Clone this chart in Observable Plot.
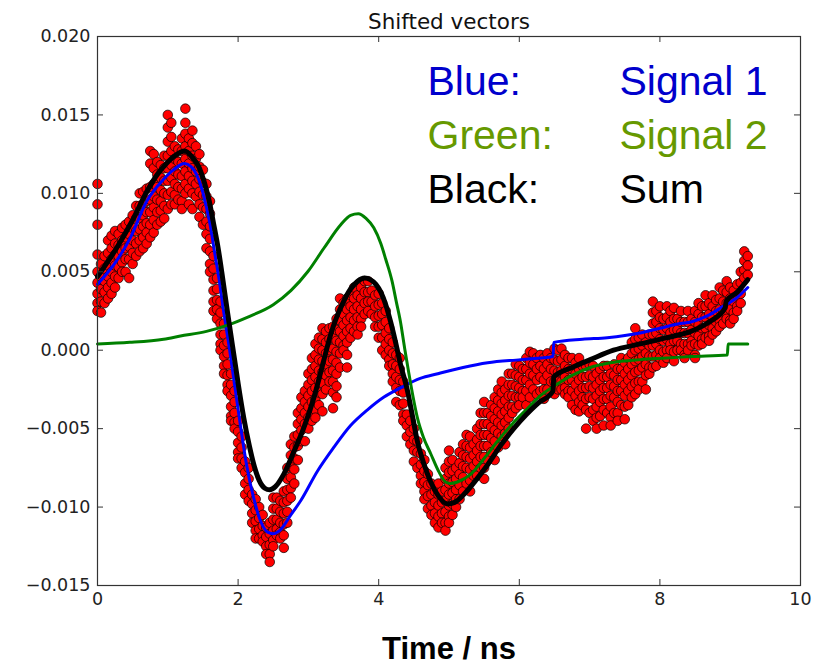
<!DOCTYPE html>
<html><head><meta charset="utf-8">
<script src="https://cdn.jsdelivr.net/npm/d3@7"></script>
<script src="https://cdn.jsdelivr.net/npm/@observablehq/plot@0.6"></script>
<style>html,body{margin:0;padding:0;background:#fff}#chart svg{display:block}</style>
</head><body><div id="chart"></div>
<script>
const titleText = "Shifted vectors";
const xLabel = "Time / ns";
const xTicks = [0, 2, 4, 6, 8, 10];
const yTicks = [-0.015, -0.010, -0.005, 0.000, 0.005, 0.010, 0.015, 0.020];
const legendKeys = ["Blue:", "Green:", "Black:"];
const legendNames = ["Signal 1", "Signal 2", "Sum"];
const legendColors = ["#0000cc", "#669900", "#000000"];

// measured data: [time, [values at that time]]
const measured = [
[0.00,[0.0106,0.0093,0.0080,0.0061,0.0050,0.0043,0.0036,0.0030,0.0025]],
[0.05,[0.0055,0.0047,0.0039,0.0031,0.0024]],
[0.10,[0.0060,0.0052,0.0044,0.0037,0.0030]],
[0.15,[0.0070,0.0062,0.0054,0.0047,0.0040,0.0033]],
[0.20,[0.0073,0.0065,0.0058,0.0050,0.0043,0.0036]],
[0.25,[0.0076,0.0068,0.0061,0.0054,0.0047,0.0040]],
[0.30,[0.0074,0.0067,0.0060,0.0053,0.0046]],
[0.35,[0.0078,0.0070,0.0063,0.0056,0.0050]],
[0.40,[0.0080,0.0072,0.0065,0.0058,0.0050]],
[0.45,[0.0082,0.0074,0.0066,0.0058,0.0046]],
[0.50,[0.0086,0.0078,0.0070,0.0062,0.0055]],
[0.55,[0.0092,0.0084,0.0076,0.0068,0.0060]],
[0.60,[0.0100,0.0092,0.0084,0.0077,0.0070,0.0063]],
[0.65,[0.0101,0.0093,0.0086,0.0079,0.0072,0.0065]],
[0.70,[0.0103,0.0095,0.0088,0.0081,0.0075,0.0068]],
[0.75,[0.0127,0.0119,0.0104,0.0096,0.0088,0.0080,0.0072]],
[0.80,[0.0125,0.0116,0.0106,0.0098,0.0091,0.0083,0.0075]],
[0.85,[0.0120,0.0112,0.0104,0.0096,0.0088,0.0080]],
[0.90,[0.0118,0.0110,0.0102,0.0095,0.0089,0.0082]],
[0.95,[0.0124,0.0116,0.0108,0.0100,0.0092,0.0084]],
[1.00,[0.0150,0.0142,0.0133,0.0124,0.0116,0.0108,0.0099,0.0090]],
[1.05,[0.0145,0.0136,0.0127,0.0118,0.0110,0.0101,0.0093]],
[1.10,[0.0130,0.0122,0.0114,0.0106,0.0099,0.0093]],
[1.15,[0.0128,0.0120,0.0112,0.0104,0.0096]],
[1.20,[0.0135,0.0127,0.0119,0.0111,0.0103,0.0095,0.0090]],
[1.25,[0.0154,0.0145,0.0138,0.0130,0.0122,0.0114,0.0106,0.0100]],
[1.30,[0.0135,0.0127,0.0119,0.0111,0.0103,0.0093]],
[1.35,[0.0140,0.0132,0.0124,0.0116,0.0108,0.0100,0.0090]],
[1.40,[0.0130,0.0122,0.0114,0.0106,0.0098]],
[1.45,[0.0125,0.0117,0.0109,0.0101,0.0093,0.0085]],
[1.50,[0.0115,0.0107,0.0099,0.0091,0.0080]],
[1.55,[0.0106,0.0098,0.0090,0.0082,0.0074,0.0065]],
[1.60,[0.0095,0.0087,0.0079,0.0071,0.0063,0.0055,0.0050]],
[1.65,[0.0060,0.0052,0.0045,0.0038,0.0031,0.0025]],
[1.70,[0.0046,0.0039,0.0032,0.0026,0.0020]],
[1.75,[0.0031,0.0024,0.0017,0.0010,0.0004,0.0000]],
[1.80,[0.0017,0.0010,0.0003,-0.0004,-0.0010,-0.0015]],
[1.85,[0.0005,-0.0002,-0.0009,-0.0016,-0.0022,-0.0026]],
[1.90,[-0.0015,-0.0022,-0.0029,-0.0036,-0.0042,-0.0045]],
[1.95,[-0.0026,-0.0033,-0.0040,-0.0046,-0.0050]],
[2.00,[-0.0045,-0.0052,-0.0059,-0.0065,-0.0069]],
[2.05,[-0.0055,-0.0062,-0.0069,-0.0075]],
[2.10,[-0.0071,-0.0078,-0.0085,-0.0092]],
[2.15,[-0.0075,-0.0082,-0.0089,-0.0096]],
[2.20,[-0.0092,-0.0098,-0.0104,-0.0110]],
[2.25,[-0.0095,-0.0102,-0.0109,-0.0115,-0.0120]],
[2.30,[-0.0100,-0.0107,-0.0114,-0.0120]],
[2.35,[-0.0105,-0.0112,-0.0118,-0.0122]],
[2.40,[-0.0113,-0.0119,-0.0125,-0.0130]],
[2.45,[-0.0110,-0.0117,-0.0124,-0.0130,-0.0135]],
[2.50,[-0.0094,-0.0101,-0.0108,-0.0115,-0.0121,-0.0125]],
[2.55,[-0.0094,-0.0101,-0.0108,-0.0114,-0.0118]],
[2.60,[-0.0096,-0.0103,-0.0110,-0.0116,-0.0120]],
[2.65,[-0.0090,-0.0097,-0.0104,-0.0111,-0.0118,-0.0126]],
[2.70,[-0.0075,-0.0082,-0.0089,-0.0096,-0.0103,-0.0110]],
[2.75,[-0.0060,-0.0067,-0.0074,-0.0081,-0.0088,-0.0094]],
[2.80,[-0.0055,-0.0062,-0.0069,-0.0076,-0.0085]],
[2.85,[-0.0040,-0.0047,-0.0054,-0.0061,-0.0070]],
[2.90,[-0.0030,-0.0037,-0.0044,-0.0051,-0.0058]],
[2.95,[-0.0026,-0.0033,-0.0040,-0.0047,-0.0058]],
[3.00,[-0.0015,-0.0022,-0.0029,-0.0036,-0.0043,-0.0050]],
[3.05,[-0.0005,-0.0012,-0.0019,-0.0026,-0.0033,-0.0040,-0.0045]],
[3.10,[0.0004,-0.0003,-0.0010,-0.0017,-0.0024,-0.0031,-0.0038,-0.0043]],
[3.15,[0.0008,0.0001,-0.0006,-0.0013,-0.0020,-0.0027,-0.0035]],
[3.20,[0.0014,0.0007,0.0000,-0.0007,-0.0014,-0.0021,-0.0028,-0.0039]],
[3.25,[0.0012,0.0005,-0.0002,-0.0009,-0.0016,-0.0025]],
[3.30,[0.0014,0.0007,0.0000,-0.0007,-0.0014,-0.0020]],
[3.35,[0.0015,0.0008,0.0001,-0.0006,-0.0013,-0.0020,-0.0027,-0.0037]],
[3.40,[0.0020,0.0013,0.0006,-0.0001,-0.0008,-0.0015,-0.0023,-0.0030]],
[3.45,[0.0033,0.0026,0.0019,0.0012,0.0005,-0.0002,-0.0011]],
[3.50,[0.0030,0.0023,0.0016,0.0009,0.0003,0.0000]],
[3.55,[0.0033,0.0026,0.0019,0.0012,0.0005,-0.0003,-0.0011]],
[3.60,[0.0035,0.0028,0.0021,0.0014,0.0008]],
[3.65,[0.0040,0.0033,0.0026,0.0019,0.0012]],
[3.70,[0.0035,0.0028,0.0021,0.0015,0.0010]],
[3.75,[0.0040,0.0033,0.0026,0.0020,0.0015]],
[3.80,[0.0044,0.0037,0.0030,0.0023]],
[3.85,[0.0044,0.0037,0.0031,0.0025]],
[3.90,[0.0038,0.0031,0.0023]],
[3.95,[0.0035,0.0028,0.0021,0.0015]],
[4.00,[0.0036,0.0029,0.0022,0.0015,0.0008]],
[4.05,[0.0030,0.0023,0.0016,0.0008,0.0000]],
[4.10,[0.0025,0.0018,0.0011,0.0004,-0.0003]],
[4.15,[0.0014,0.0007,0.0000,-0.0006,-0.0010]],
[4.20,[0.0005,-0.0002,-0.0009,-0.0015,-0.0020]],
[4.25,[-0.0003,-0.0010,-0.0017,-0.0024,-0.0033]],
[4.30,[-0.0005,-0.0012,-0.0019,-0.0026,-0.0035]],
[4.35,[-0.0020,-0.0027,-0.0034,-0.0041,-0.0045]],
[4.40,[-0.0041,-0.0048,-0.0055]],
[4.45,[-0.0045,-0.0052,-0.0060]],
[4.50,[-0.0050,-0.0057,-0.0064,-0.0071]],
[4.55,[-0.0058,-0.0065,-0.0075]],
[4.60,[-0.0066,-0.0073,-0.0080,-0.0085]],
[4.65,[-0.0070,-0.0077,-0.0084,-0.0090,-0.0095]],
[4.70,[-0.0079,-0.0086,-0.0093,-0.0101]],
[4.75,[-0.0085,-0.0092,-0.0099,-0.0105]],
[4.80,[-0.0090,-0.0097,-0.0104,-0.0110]],
[4.85,[-0.0085,-0.0092,-0.0099,-0.0106,-0.0113]],
[4.90,[-0.0090,-0.0097,-0.0104,-0.0110]],
[4.95,[-0.0075,-0.0082,-0.0089,-0.0096,-0.0103,-0.0110,-0.0115]],
[5.00,[-0.0064,-0.0071,-0.0078,-0.0085,-0.0092,-0.0099,-0.0106,-0.0110]],
[5.05,[-0.0070,-0.0077,-0.0084,-0.0091,-0.0098,-0.0105]],
[5.10,[-0.0075,-0.0082,-0.0089,-0.0095,-0.0100]],
[5.15,[-0.0065,-0.0072,-0.0079,-0.0086,-0.0095]],
[5.20,[-0.0060,-0.0067,-0.0074,-0.0081,-0.0090]],
[5.25,[-0.0054,-0.0061,-0.0068,-0.0075,-0.0085]],
[5.30,[-0.0055,-0.0062,-0.0069,-0.0076,-0.0083,-0.0090]],
[5.35,[-0.0060,-0.0067,-0.0074,-0.0080]],
[5.40,[-0.0050,-0.0057,-0.0064,-0.0071,-0.0080]],
[5.45,[-0.0040,-0.0047,-0.0054,-0.0061,-0.0068,-0.0075]],
[5.50,[-0.0033,-0.0040,-0.0047,-0.0054,-0.0061,-0.0068,-0.0075,-0.0082]],
[5.55,[-0.0040,-0.0047,-0.0054,-0.0061,-0.0070]],
[5.60,[-0.0035,-0.0042,-0.0049,-0.0056,-0.0065]],
[5.65,[-0.0030,-0.0037,-0.0044,-0.0051,-0.0058,-0.0070]],
[5.70,[-0.0025,-0.0032,-0.0039,-0.0046,-0.0053,-0.0062]],
[5.75,[-0.0020,-0.0027,-0.0034,-0.0041,-0.0048,-0.0055]],
[5.80,[-0.0025,-0.0032,-0.0039,-0.0046,-0.0053,-0.0060]],
[5.85,[-0.0015,-0.0022,-0.0029,-0.0036,-0.0043,-0.0050]],
[5.90,[-0.0015,-0.0022,-0.0029,-0.0036,-0.0040]],
[5.95,[-0.0009,-0.0016,-0.0023,-0.0030,-0.0037]],
[6.00,[-0.0010,-0.0017,-0.0024,-0.0030,-0.0035]],
[6.05,[-0.0012,-0.0019,-0.0026,-0.0030]],
[6.10,[-0.0005,-0.0012,-0.0019,-0.0026,-0.0035]],
[6.15,[-0.0001,-0.0008,-0.0015,-0.0022,-0.0030]],
[6.20,[-0.0002,-0.0009,-0.0016,-0.0025]],
[6.25,[-0.0005,-0.0012,-0.0019,-0.0028]],
[6.30,[-0.0003,-0.0010,-0.0017,-0.0026]],
[6.35,[-0.0005,-0.0012,-0.0019,-0.0025,-0.0031]],
[6.40,[-0.0002,-0.0009,-0.0016,-0.0025]],
[6.45,[-0.0005,-0.0012,-0.0020]],
[6.50,[0.0001,-0.0006,-0.0013,-0.0020,-0.0028]],
[6.55,[0.0000,-0.0007,-0.0014,-0.0020,-0.0025]],
[6.60,[0.0001,-0.0006,-0.0013,-0.0020,-0.0025]],
[6.65,[-0.0003,-0.0010,-0.0017,-0.0024,-0.0028]],
[6.70,[-0.0005,-0.0012,-0.0019,-0.0026,-0.0030]],
[6.75,[-0.0005,-0.0012,-0.0019,-0.0026,-0.0035]],
[6.80,[-0.0008,-0.0015,-0.0022,-0.0029,-0.0038]],
[6.85,[-0.0005,-0.0012,-0.0019,-0.0026,-0.0033,-0.0039]],
[6.90,[-0.0010,-0.0017,-0.0024,-0.0030,-0.0035]],
[6.95,[-0.0010,-0.0017,-0.0024,-0.0031,-0.0038,-0.0050]],
[7.00,[-0.0009,-0.0016,-0.0023,-0.0030,-0.0040]],
[7.05,[-0.0010,-0.0017,-0.0024,-0.0031,-0.0038,-0.0045]],
[7.10,[-0.0015,-0.0022,-0.0029,-0.0036,-0.0043,-0.0050]],
[7.15,[-0.0012,-0.0019,-0.0026,-0.0033,-0.0042]],
[7.20,[-0.0010,-0.0017,-0.0024,-0.0031,-0.0038,-0.0048]],
[7.25,[-0.0010,-0.0017,-0.0024,-0.0031,-0.0040]],
[7.30,[-0.0015,-0.0022,-0.0029,-0.0036,-0.0043,-0.0048]],
[7.35,[-0.0009,-0.0016,-0.0023,-0.0030,-0.0040]],
[7.40,[-0.0012,-0.0019,-0.0026,-0.0033,-0.0040,-0.0045]],
[7.45,[-0.0005,-0.0012,-0.0019,-0.0026,-0.0035]],
[7.50,[-0.0008,-0.0015,-0.0022,-0.0029,-0.0036,-0.0044]],
[7.55,[-0.0005,-0.0012,-0.0019,-0.0026,-0.0035]],
[7.60,[0.0005,-0.0002,-0.0009,-0.0016,-0.0023,-0.0030]],
[7.65,[0.0014,0.0007,0.0000,-0.0007,-0.0014,-0.0021,-0.0028]],
[7.70,[0.0008,0.0001,-0.0006,-0.0013,-0.0020,-0.0025]],
[7.75,[0.0010,0.0003,-0.0004,-0.0011,-0.0020]],
[7.80,[0.0005,-0.0002,-0.0009,-0.0016,-0.0025]],
[7.85,[0.0010,0.0003,-0.0004,-0.0011,-0.0015]],
[7.90,[0.0031,0.0024,0.0017,0.0010,0.0003,-0.0004,-0.0011]],
[7.95,[0.0025,0.0018,0.0011,0.0004,-0.0003,-0.0010]],
[8.00,[0.0028,0.0021,0.0014,0.0007,0.0000,-0.0005]],
[8.05,[0.0020,0.0013,0.0006,-0.0001,-0.0008]],
[8.10,[0.0028,0.0021,0.0014,0.0007,0.0000,-0.0005]],
[8.15,[0.0025,0.0018,0.0011,0.0004,0.0000]],
[8.20,[0.0027,0.0020,0.0013,0.0006,-0.0001,-0.0007]],
[8.25,[0.0020,0.0013,0.0006,0.0000]],
[8.30,[0.0025,0.0018,0.0011,0.0004,0.0000]],
[8.35,[0.0018,0.0011,0.0004,-0.0003,-0.0005]],
[8.40,[0.0025,0.0018,0.0011,0.0004,0.0000]],
[8.45,[0.0020,0.0013,0.0006,0.0003]],
[8.50,[0.0025,0.0018,0.0011,0.0004,-0.0003,-0.0005]],
[8.55,[0.0030,0.0023,0.0016,0.0009,0.0003]],
[8.60,[0.0028,0.0021,0.0014,0.0007,0.0004]],
[8.65,[0.0035,0.0028,0.0021,0.0014,0.0008]],
[8.70,[0.0030,0.0023,0.0016,0.0009,0.0006]],
[8.75,[0.0035,0.0028,0.0021,0.0014,0.0010]],
[8.80,[0.0032,0.0025,0.0018,0.0012]],
[8.85,[0.0040,0.0033,0.0026,0.0019,0.0015]],
[8.90,[0.0038,0.0031,0.0024,0.0017]],
[8.95,[0.0044,0.0037,0.0030,0.0023,0.0020]],
[9.00,[0.0040,0.0033,0.0026,0.0019,0.0017]],
[9.05,[0.0038,0.0031,0.0024,0.0020]],
[9.10,[0.0042,0.0035,0.0028,0.0025]],
[9.15,[0.0050,0.0043,0.0036,0.0030]],
[9.20,[0.0063,0.0057,0.0051,0.0046]],
[9.25,[0.0060,0.0054,0.0048]]
];

// Signal 1 (blue): [time, value]
const signal1 = [[0,0.0042],[0.27,0.0057],[0.46,0.0071],[0.70,0.0095],[0.94,0.0109],[1.08,0.0115],[1.24,0.0119],[1.33,0.0117],[1.41,0.0112],[1.49,0.0102],[1.55,0.0091],[1.61,0.0078],[1.66,0.0064],[1.73,0.0045],[1.79,0.0026],[1.87,0.0003],[1.95,-0.0022],[2.03,-0.0047],[2.12,-0.0073],[2.22,-0.0094],[2.33,-0.0110],[2.42,-0.0116],[2.50,-0.0117],[2.59,-0.0115],[2.75,-0.0105],[2.89,-0.0096],[3.13,-0.0077],[3.36,-0.0062],[3.60,-0.0048],[3.84,-0.0038],[4.07,-0.0030],[4.31,-0.0024],[4.59,-0.0018],[4.84,-0.0015],[5.20,-0.0011],[5.55,-0.0008],[6.02,-0.0006],[6.48,-0.0004],[6.49,0.0005],[6.90,0.0007],[7.25,0.0008],[7.72,0.0011],[8.00,0.0014],[8.29,0.0017],[8.44,0.0018],[8.68,0.0022],[8.90,0.0028],[9.08,0.0033],[9.25,0.0040]];

// Signal 2 (green)
const signal2 = [[0,0.0004],[0.46,0.0005],[0.94,0.0007],[1.18,0.0009],[1.55,0.0012],[1.85,0.0016],[2.13,0.0021],[2.50,0.0029],[2.75,0.0038],[2.99,0.0050],[3.22,0.0065],[3.46,0.0080],[3.60,0.0086],[3.71,0.0087],[3.82,0.0084],[3.93,0.0078],[4.03,0.0068],[4.10,0.0058],[4.19,0.0044],[4.25,0.0031],[4.31,0.0018],[4.37,0.0001],[4.43,-0.0015],[4.49,-0.0030],[4.55,-0.0043],[4.64,-0.0056],[4.74,-0.0066],[4.85,-0.0077],[4.95,-0.0084],[5.02,-0.0085],[5.12,-0.0084],[5.31,-0.0079],[5.50,-0.0069],[5.69,-0.0058],[5.90,-0.0047],[6.12,-0.0037],[6.30,-0.0029],[6.49,-0.0023],[6.75,-0.0016],[7.01,-0.0011],[7.30,-0.0008],[7.72,-0.0006],[8.10,-0.0005],[8.44,-0.0004],[8.96,-0.0003],[8.97,0.0004],[9.25,0.0004]];

// Sum (black)
const sumSignal = [[0,0.0047],[0.27,0.0065],[0.50,0.0083],[0.70,0.0101],[0.85,0.0112],[0.98,0.0119],[1.10,0.0124],[1.24,0.0127],[1.35,0.0123],[1.45,0.0116],[1.52,0.0107],[1.59,0.0095],[1.65,0.0081],[1.72,0.0064],[1.78,0.0046],[1.85,0.0024],[1.92,0.0003],[2.00,-0.0021],[2.08,-0.0043],[2.16,-0.0061],[2.23,-0.0074],[2.30,-0.0083],[2.38,-0.0088],[2.45,-0.0089],[2.53,-0.0087],[2.65,-0.0079],[2.80,-0.0064],[2.93,-0.0050],[3.08,-0.0030],[3.21,-0.0008],[3.31,0.0009],[3.41,0.0022],[3.50,0.0031],[3.60,0.0039],[3.70,0.0044],[3.80,0.0046],[3.88,0.0045],[3.96,0.0042],[4.03,0.0037],[4.10,0.0029],[4.17,0.0018],[4.24,0.0005],[4.31,-0.0009],[4.41,-0.0026],[4.48,-0.0042],[4.55,-0.0058],[4.64,-0.0072],[4.74,-0.0084],[4.85,-0.0093],[4.98,-0.0098],[5.08,-0.0097],[5.21,-0.0092],[5.38,-0.0083],[5.55,-0.0073],[5.73,-0.0061],[5.92,-0.0050],[6.10,-0.0041],[6.26,-0.0034],[6.48,-0.0026],[6.49,-0.0017],[6.75,-0.0011],[7.01,-0.0006],[7.34,0.0000],[7.72,0.0004],[8.10,0.0008],[8.44,0.0012],[8.70,0.0018],[8.93,0.0027],[8.94,0.0031],[9.10,0.0037],[9.25,0.0045]];

// ---- layout ----
const W = 827, H = 671;
const mL = 97, mR = 27, mT = 36, mB = 86;
const plotW = W - mL - mR, plotH = H - mT - mB;
const tickLen = 6;
const axisColor = "#333";

const pts = measured.flatMap(([t, vs]) => vs.map(v => ({t, v})));
const toRows = arr => arr.map(([t, v]) => ({t, v}));

const legendMarks = [];
legendKeys.forEach((k, i) => {
  legendMarks.push(Plot.text([k], {text: d => d, frameAnchor: "top-left", dx: 330, dy: 58 + i * 54,
    textAnchor: "start", lineAnchor: "bottom", fontSize: 41, fontFamily: "Liberation Sans, Arial, sans-serif", fill: legendColors[i]}));
  legendMarks.push(Plot.text([legendNames[i]], {text: d => d, frameAnchor: "top-left", dx: 522, dy: 58 + i * 54,
    textAnchor: "start", lineAnchor: "bottom", fontSize: 41, fontFamily: "Liberation Sans, Arial, sans-serif", fill: legendColors[i]}));
});

const chart = Plot.plot({
  width: W, height: H,
  marginLeft: mL, marginRight: mR, marginTop: mT, marginBottom: mB,
  x: {domain: [0, 10]},
  y: {domain: [-0.015, 0.020]},
  style: {fontFamily: "DejaVu Sans, sans-serif", fontSize: "17.5px", color: "#222", background: "#fff", overflow: "visible"},
  marks: [
    Plot.dot(pts, {x: "t", y: "v", r: 4.8, fill: "#ff0000", stroke: "#000", strokeWidth: 0.7}),
    Plot.line(toRows(signal1), {x: "t", y: "v", stroke: "#0000ff", strokeWidth: 3, curve: "monotone-x"}),
    Plot.line(toRows(signal2), {x: "t", y: "v", stroke: "#008000", strokeWidth: 3, curve: "monotone-x"}),
    Plot.line(toRows(sumSignal), {x: "t", y: "v", stroke: "#000000", strokeWidth: 5, curve: "monotone-x"}),
    Plot.frame({stroke: axisColor, strokeWidth: 1.2}),
    // inward ticks on all four sides
    Plot.tickX(xTicks, {x: d => d, insetTop: plotH - tickLen, stroke: axisColor}),
    Plot.tickX(xTicks, {x: d => d, insetBottom: plotH - tickLen, stroke: axisColor}),
    Plot.tickY(yTicks, {y: d => d, insetRight: plotW - tickLen, stroke: axisColor}),
    Plot.tickY(yTicks, {y: d => d, insetLeft: plotW - tickLen, stroke: axisColor}),
    Plot.axisX(xTicks, {anchor: "bottom", tickSize: 0, tickPadding: 7, tickFormat: d => String(d), label: null, fill: "#222"}),
    Plot.axisY(yTicks, {anchor: "left", tickSize: 0, tickPadding: 7, tickFormat: d3.format(".3f"), label: null, fill: "#222"}),
    Plot.text([titleText], {text: d => d, frameAnchor: "top", dy: -8, lineAnchor: "bottom", fontSize: 21.5, fill: "#111"}),
    Plot.text([xLabel], {text: d => d, frameAnchor: "bottom", dy: 73, lineAnchor: "bottom", fontSize: 31, fontWeight: "bold", fontFamily: "Liberation Sans, Arial, sans-serif", fill: "#000"}),
    ...legendMarks
  ]
});
document.getElementById("chart").appendChild(chart);
</script>
</body></html>
